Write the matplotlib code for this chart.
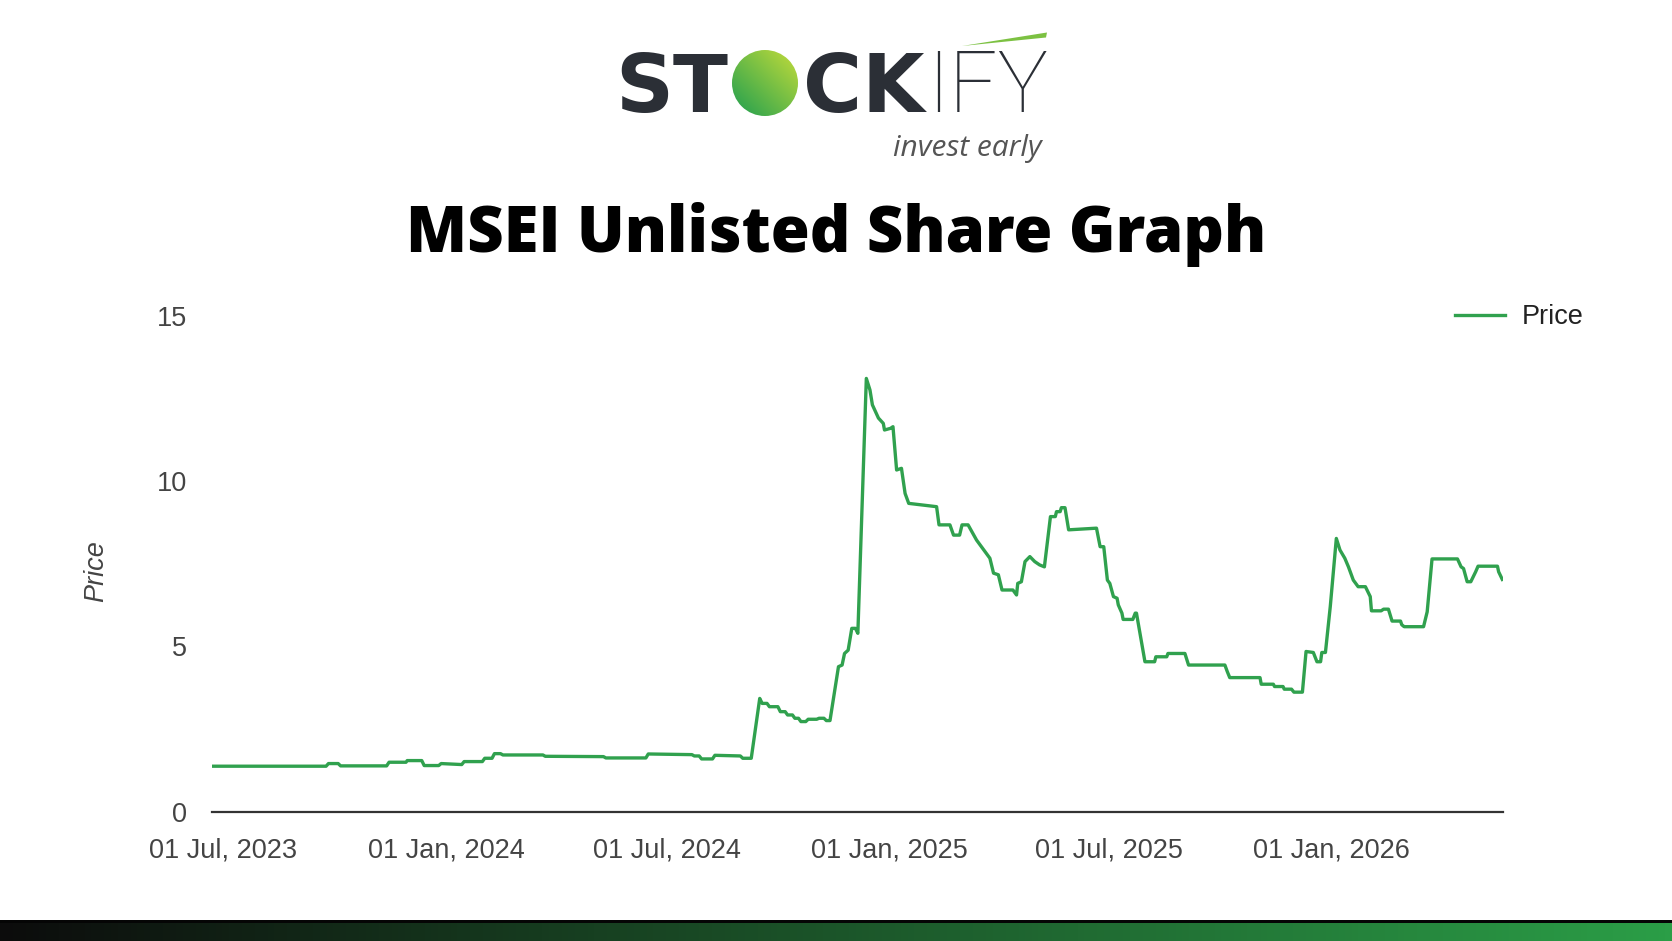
import numpy as np
import pandas as pd
import matplotlib
matplotlib.use("Agg")
import matplotlib.pyplot as plt
import matplotlib.dates as mdates
from matplotlib.patches import Circle, Polygon

# price history (date, price)
dates = [
    "2023-06-22", "2023-09-24", "2023-09-26", "2023-10-04", "2023-10-06", "2023-11-13",
    "2023-11-15", "2023-11-29", "2023-11-30", "2023-12-12", "2023-12-14", "2023-12-26",
    "2023-12-28", "2024-01-14", "2024-01-16", "2024-01-31", "2024-02-02", "2024-02-08",
    "2024-02-10", "2024-02-15", "2024-02-17", "2024-03-21", "2024-03-23", "2024-05-10",
    "2024-05-12", "2024-06-14", "2024-06-16", "2024-07-22", "2024-07-24", "2024-07-28",
    "2024-07-30", "2024-08-08", "2024-08-10", "2024-08-31", "2024-09-02", "2024-09-09",
    "2024-09-16", "2024-09-18", "2024-09-22", "2024-09-24", "2024-10-01", "2024-10-03",
    "2024-10-07", "2024-10-09", "2024-10-13", "2024-10-15", "2024-10-18", "2024-10-20",
    "2024-10-24", "2024-10-26", "2024-11-02", "2024-11-04", "2024-11-08", "2024-11-10",
    "2024-11-13", "2024-11-20", "2024-11-23", "2024-11-25", "2024-11-28", "2024-12-01",
    "2024-12-04", "2024-12-06", "2024-12-13", "2024-12-16", "2024-12-18", "2024-12-23",
    "2024-12-27", "2024-12-28", "2025-01-02", "2025-01-04", "2025-01-07", "2025-01-11",
    "2025-01-14", "2025-01-17", "2025-02-09", "2025-02-11", "2025-02-20", "2025-02-23",
    "2025-02-28", "2025-03-02", "2025-03-07", "2025-03-11", "2025-03-14", "2025-03-17",
    "2025-03-21", "2025-03-25", "2025-03-28", "2025-04-01", "2025-04-04", "2025-04-13",
    "2025-04-16", "2025-04-17", "2025-04-20", "2025-04-23", "2025-04-27", "2025-05-01",
    "2025-05-05", "2025-05-09", "2025-05-14", "2025-05-18", "2025-05-19", "2025-05-22",
    "2025-05-23", "2025-05-26", "2025-05-29", "2025-06-21", "2025-06-24", "2025-06-27",
    "2025-06-30", "2025-07-02", "2025-07-05", "2025-07-08", "2025-07-09", "2025-07-12",
    "2025-07-13", "2025-07-21", "2025-07-23", "2025-07-24", "2025-07-31", "2025-08-08",
    "2025-08-09", "2025-08-18", "2025-08-19", "2025-09-02", "2025-09-05", "2025-10-05",
    "2025-10-07", "2025-10-09", "2025-11-03", "2025-11-04", "2025-11-14", "2025-11-15",
    "2025-11-22", "2025-11-23", "2025-11-29", "2025-12-01", "2025-12-08", "2025-12-11",
    "2025-12-17", "2025-12-20", "2025-12-23", "2025-12-24", "2025-12-27", "2025-12-31",
    "2026-01-05", "2026-01-08", "2026-01-12", "2026-01-15", "2026-01-19", "2026-01-23",
    "2026-01-29", "2026-02-02", "2026-02-03", "2026-02-11", "2026-02-13", "2026-02-17",
    "2026-02-20", "2026-02-27", "2026-02-28", "2026-03-02", "2026-03-18", "2026-03-21",
    "2026-03-25", "2026-04-15", "2026-04-18", "2026-04-20", "2026-04-23", "2026-04-26",
    "2026-04-28", "2026-04-30", "2026-05-02", "2026-05-18", "2026-05-19", "2026-05-22",
]
prices = [
    1.37, 1.37, 1.45, 1.45, 1.38, 1.38,
    1.49, 1.49, 1.54, 1.54, 1.39, 1.39,
    1.45, 1.42, 1.51, 1.51, 1.61, 1.61,
    1.75, 1.75, 1.71, 1.71, 1.67, 1.66,
    1.62, 1.62, 1.74, 1.72, 1.68, 1.68,
    1.59, 1.59, 1.70, 1.68, 1.61, 1.61,
    3.42, 3.27, 3.27, 3.17, 3.17, 3.02,
    3.02, 2.92, 2.92, 2.82, 2.82, 2.72,
    2.72, 2.79, 2.79, 2.82, 2.82, 2.75,
    2.75, 4.38, 4.43, 4.78, 4.88, 5.54,
    5.54, 5.39, 13.10, 12.75, 12.30, 11.90,
    11.74, 11.54, 11.59, 11.64, 10.33, 10.38,
    9.62, 9.32, 9.22, 8.67, 8.67, 8.36,
    8.36, 8.67, 8.67, 8.41, 8.21, 8.06,
    7.86, 7.66, 7.21, 7.16, 6.70, 6.70,
    6.55, 6.90, 6.95, 7.56, 7.71, 7.56,
    7.46, 7.40, 8.92, 8.92, 9.07, 9.07,
    9.19, 9.19, 8.52, 8.57, 8.01, 8.01,
    7.00, 6.90, 6.50, 6.45, 6.25, 6.00,
    5.81, 5.81, 6.00, 6.00, 4.53, 4.53,
    4.68, 4.68, 4.78, 4.78, 4.43, 4.43,
    4.23, 4.05, 4.05, 3.85, 3.85, 3.78,
    3.78, 3.70, 3.70, 3.61, 3.61, 4.84,
    4.81, 4.53, 4.53, 4.81, 4.81, 6.20,
    8.26, 7.91, 7.66, 7.40, 7.00, 6.80,
    6.80, 6.50, 6.07, 6.07, 6.12, 6.12,
    5.76, 5.76, 5.65, 5.59, 5.59, 6.04,
    7.64, 7.64, 7.40, 7.35, 6.95, 6.95,
    7.10, 7.25, 7.42, 7.42, 7.25, 7.02,
]
tick_dates = ["2023-07-01", "2024-01-01", "2024-07-01", "2025-01-01", "2025-07-01", "2026-01-01"]
y_ticks = [0, 5, 10, 15]

x = pd.to_datetime(dates)

W, H = 1672, 941
fig = plt.figure(figsize=(W / 100, H / 100), dpi=100)
fig.patch.set_facecolor("white")

# background layer in pixel units for the branding bits
bg = fig.add_axes([0, 0, 1, 1], zorder=0)
bg.set_xlim(0, W)
bg.set_ylim(H, 0)
bg.axis("off")

# bottom gradient strip
grad = np.linspace(0, 1, 256)
c0 = np.array([12, 12, 12]) / 255
c1 = np.array([43, 158, 71]) / 255
strip = (c0[None, :] * (1 - grad[:, None]) + c1[None, :] * grad[:, None])[None, :, :]
bg.imshow(strip, extent=[0, W, H, 922], aspect="auto", zorder=1)
bg.fill_between([0, W], 919.5, 922.5, color="#050505", zorder=2, lw=0)

# logo
dark = "#2b2f36"
bg.text(728, 112, "ST", fontsize=58, fontfamily="DejaVu Sans", fontweight="bold",
        color=dark, ha="right", va="baseline")
bg.text(803, 112, "CK", fontsize=58, fontfamily="DejaVu Sans", fontweight="bold",
        color=dark, ha="left", va="baseline")
bg.text(927, 112, "IFY", fontsize=61, fontfamily="Roboto", fontweight="light",
        color=dark, ha="left", va="baseline")
circ = Circle((765, 83), 33, transform=bg.transData)
g = np.linspace(0, 1, 64)
gx, gy = np.meshgrid(g, g)
t = np.clip((gx + (1 - gy)) / 2, 0, 1)
a0 = np.array([30, 158, 80]) / 255
a1 = np.array([196, 220, 58]) / 255
disk = a0[None, None, :] * (1 - t[..., None]) + a1[None, None, :] * t[..., None]
im = bg.imshow(disk, extent=[732, 798, 116, 50], aspect="auto", zorder=3)
im.set_clip_path(circ)
bg.add_patch(Polygon([[962, 46], [1047, 32.5], [1046, 37.5]], closed=True,
                     color="#7cc142", lw=0, zorder=3))
bg.text(1042, 156, "invest early", fontsize=21.5, fontfamily="Open Sans",
        style="italic", color="#555555", ha="right", va="baseline")

# title
bg.text(836, 251.6, "MSEI Unlisted Share Graph", fontsize=45.5, fontfamily="Open Sans",
        fontweight="extra bold", color="black", ha="center", va="baseline")

# main chart
ax = fig.add_axes([212.2 / W, 1 - 811.5 / H, (1503.5 - 212.2) / W, (811.5 - 315.6) / H], zorder=1)
ax.patch.set_alpha(0)
ax.plot(x, prices, color="#30a14e", lw=2.4, label="Price", solid_joinstyle="round")

ax.set_xlim(pd.Timestamp("2023-06-22"), pd.Timestamp("2026-05-23"))
ax.set_ylim(0, 15)
ax.set_yticks(y_ticks)
ax.set_xticks(pd.to_datetime(tick_dates))
ax.xaxis.set_major_formatter(mdates.DateFormatter("%d %b, %Y"))

for s in ["top", "right", "left"]:
    ax.spines[s].set_visible(False)
ax.spines["bottom"].set_color("#333333")
ax.spines["bottom"].set_linewidth(1.6)

ax.tick_params(axis="both", length=0, labelsize=19.5, labelcolor="#444444")
ax.tick_params(axis="y", pad=18)
ax.tick_params(axis="x", pad=18.5)
for lab in ax.get_xticklabels() + ax.get_yticklabels():
    lab.set_fontfamily("Liberation Sans")

ax.set_ylabel("Price", fontsize=19.5, style="italic", color="#444444",
              fontfamily="Liberation Sans", va="center")
ax.yaxis.set_label_coords(-0.090, 0.484)

leg = ax.legend(loc="center left", bbox_to_anchor=(1455 / W, 1 - 317 / H),
                bbox_transform=fig.transFigure, frameon=False,
                handlelength=1.85, handletextpad=0.6, borderpad=0, borderaxespad=0,
                prop={"family": "Liberation Sans", "size": 19.5})
for txt in leg.get_texts():
    txt.set_color("#222222")

fig.savefig("out.png", dpi=100)
